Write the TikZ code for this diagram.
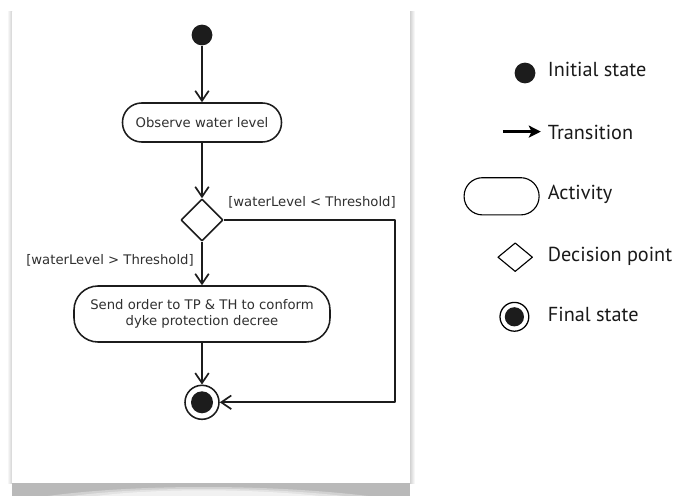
\documentclass[tikz,border=0pt]{standalone}
\usepackage{fontspec}
\setmainfont{DejaVu Sans}
\newfontfamily\keyfont{PT Sans}
\usetikzlibrary{arrows.meta,shapes.geometric}

\definecolor{ink}{HTML}{1C1C1C}
\definecolor{txt}{HTML}{303030}

\tikzset{
    flow/.style={->, line width=1.2pt, draw=ink},
    start/.style={circle, fill=ink, minimum size=0.52cm, inner sep=0pt},
    activity/.style={draw=ink, line width=1.1pt, rounded corners=#1, inner sep=0pt, align=center, text=txt, font=\fontsize{9.4}{11.6}\selectfont},
    activity/.default=0.48cm,
    decision/.style={draw=ink, diamond, line width=1.1pt, inner sep=0pt},
    final/.style={circle, draw=ink, line width=1.1pt, inner sep=0pt},
    finaldot/.style={path picture={\fill[ink] (path picture bounding box.center) circle (#1);}},
    guard/.style={inner sep=0pt, text=txt, font=\fontsize{9.4}{11.6}\selectfont},
    keytext/.style={inner sep=0pt, text=black!90, font=\keyfont\fontsize{14.4}{17}\selectfont},
}

\begin{document}
\begin{tikzpicture}[>={Straight Barb[length=0.25cm,width=0.34cm]}, line join=round]
    \useasboundingbox (0,0) rectangle (16.85,12.4);

    % sheet with its shadow
    \shade[left color=white, right color=gray!35] (0.175,0.325) rectangle (0.3,12.1);
    \shade[left color=gray!35, right color=white] (10.25,0.325) rectangle (10.375,12.1);
    \fill[gray!55] (0.3,0) rectangle (10.25,0.325);
    \fill[white, opacity=0.35] (1.2,0) .. controls (3.4,0.3) and (6.7,0.3) .. (9.2,0) -- cycle;
    \fill[white, opacity=0.4] (1.8,0) .. controls (3.6,0.24) and (6.5,0.24) .. (8.6,0) -- cycle;
    \fill[white, opacity=0.5] (2.4,0) .. controls (3.9,0.19) and (6.2,0.19) .. (8.0,0) -- cycle;
    \fill[white] (0.3,0.325) rectangle (10.25,12.1);

    % activity diagram
    \node[start] (init) at (5.05,11.525) {};
    \node[activity, minimum width=3.975cm, minimum height=0.975cm] (observe) at (5.05,9.3375) {Observe water level};
    \node[decision, minimum size=1.05cm] (check) at (5.05,6.9) {};
    \node[activity=0.6cm, minimum width=6.4cm, minimum height=1.4cm] (order) at (5.05,4.55) {Send order to TP \& TH to conform\\dyke protection decree};
    \node[final, minimum size=0.85cm, finaldot=0.275cm] (stop) at (5.05,2.3425) {};
    \coordinate (bend) at (9.875,6.9);

    \draw[flow] (init) -- (observe);
    \draw[flow] (observe) -- (check);
    \draw[flow] (check) -- (order);
    \draw[flow] (order) -- (stop);
    \draw[flow] (check.east) -- (bend) |- (stop.east);

    \node[guard, anchor=west] (lowlevel) at (5.7,7.35) {[waterLevel < Threshold]};
    \node[guard, anchor=east] (highlevel) at (4.85,5.9) {[waterLevel > Threshold]};

    % legend
    \node[start] (keystart) at (13.125,10.575) {};
    \node[keytext, anchor=base west] (keystarttext) at (13.69,10.48) {Initial state};

    \coordinate (keytail) at (12.57,9.11);
    \coordinate (keyhead) at (13.52,9.11);
    \draw[line width=1.8pt, -{Stealth[length=0.3cm,width=0.3cm,inset=0.07cm]}] (keytail) -- (keyhead);
    \node[keytext, anchor=base west] (keyflowtext) at (13.69,8.925) {Transition};

    \node[draw, line width=0.8pt, rounded corners=0.46cm, minimum width=1.875cm, minimum height=0.93cm] (keyact) at (12.54,7.4925) {};
    \node[keytext, anchor=base west] (keyacttext) at (13.69,7.42) {Activity};

    \node[draw, diamond, line width=0.8pt, inner sep=0pt, minimum width=0.87cm, minimum height=0.72cm] (keydec) at (12.88,5.97) {};
    \node[keytext, anchor=base west] (keydectext) at (13.69,5.86) {Decision point};

    \node[circle, draw, line width=0.9pt, inner sep=0pt, minimum size=0.72cm, finaldot=0.24cm] (keystop) at (12.86,4.48) {};
    \node[keytext, anchor=base west] (keystoptext) at (13.69,4.36) {Final state};
\end{tikzpicture}
\end{document}
